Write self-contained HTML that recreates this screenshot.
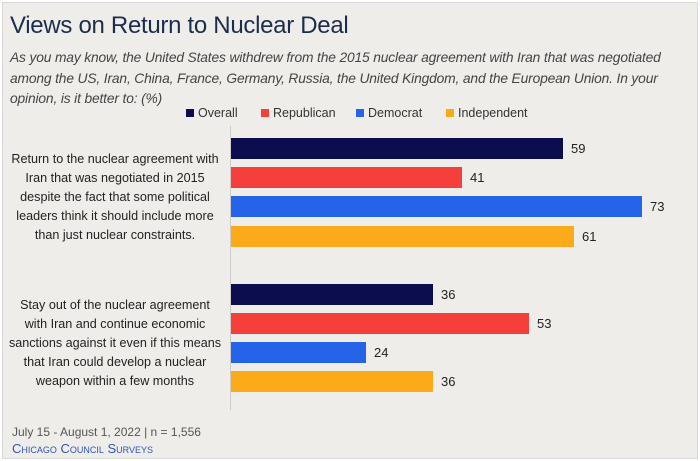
<!DOCTYPE html>
<html><head><meta charset="utf-8"><style>
body{margin:0;width:700px;height:461px;background:#fff;font-family:"Liberation Sans",sans-serif;overflow:hidden}
.card{position:absolute;left:2px;top:2px;width:694px;height:455px;background:#efedea;border:1px solid #d8d8d8}
.t{position:absolute;left:10px;top:12px;font-size:24px;color:#1c2d4c;letter-spacing:-0.3px}
.s{position:absolute;left:10px;top:48px;width:690px;font-size:13.8px;line-height:20.5px;font-style:italic;color:#444;letter-spacing:-0.15px;white-space:nowrap}
.lg{position:absolute;top:106px;font-size:12.5px;color:#333}
.lg i{display:inline-block;width:8px;height:8px;margin-right:4px;vertical-align:0}
.b{position:absolute;left:231px;height:21px}
.v{position:absolute;font-size:13px;color:#222}
.c{position:absolute;left:0px;width:230px;text-align:center;font-size:12.6px;line-height:19px;color:#222;white-space:nowrap}
</style></head><body><div class="card"></div>
<div class="t">Views on Return to Nuclear Deal</div>
<div class="s">As you may know, the United States withdrew from the 2015 nuclear agreement with Iran that was negotiated<br>among the US, Iran, China, France, Germany, Russia, the United Kingdom, and the European Union. In your<br>opinion, is it better to: (%)</div>
<div class="lg" style="left:186px"><i style="background:#0b0d4f"></i>Overall</div>
<div class="lg" style="left:261px"><i style="background:#f43f3a"></i>Republican</div>
<div class="lg" style="left:356px"><i style="background:#2563e8"></i>Democrat</div>
<div class="lg" style="left:446px"><i style="background:#fbab1a"></i>Independent</div>
<div style="position:absolute;left:230px;top:126px;width:1px;height:284px;background:#ccc"></div>
<div class="c" style="top:150px">Return to the nuclear agreement with<br>Iran that was negotiated in 2015<br>despite the fact that some political<br>leaders think it should include more<br>than just nuclear constraints.</div>
<div class="c" style="top:296px">Stay out of the nuclear agreement<br>with Iran and continue economic<br>sanctions against it even if this means<br>that Iran could develop a nuclear<br>weapon within a few months</div>
<div class="b" style="top:138px;width:332px;background:#0b0d4f"></div><div class="v" style="left:571px;top:141px">59</div>
<div class="b" style="top:167px;width:231px;background:#f43f3a"></div><div class="v" style="left:470px;top:170px">41</div>
<div class="b" style="top:196px;width:411px;background:#2563e8"></div><div class="v" style="left:650px;top:199px">73</div>
<div class="b" style="top:226px;width:343px;background:#fbab1a"></div><div class="v" style="left:582px;top:229px">61</div>
<div class="b" style="top:284px;width:202px;background:#0b0d4f"></div><div class="v" style="left:441px;top:287px">36</div>
<div class="b" style="top:313px;width:298px;background:#f43f3a"></div><div class="v" style="left:537px;top:316px">53</div>
<div class="b" style="top:342px;width:135px;background:#2563e8"></div><div class="v" style="left:374px;top:345px">24</div>
<div class="b" style="top:371px;width:202px;background:#fbab1a"></div><div class="v" style="left:441px;top:374px">36</div>
<div style="position:absolute;left:12px;top:425px;font-size:12px;color:#555">July 15 - August 1, 2022 | n = 1,556</div>
<div style="position:absolute;left:12px;top:441px;font-size:13px;color:#2f56b0;font-variant:small-caps">Chicago Council Surveys</div>
</body></html>
